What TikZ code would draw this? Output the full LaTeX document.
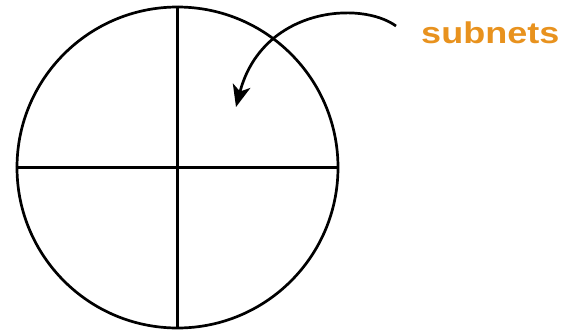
\documentclass[tikz,border=0pt]{standalone}
\usepackage{fontspec}
\setmainfont{Liberation Sans}
\usetikzlibrary{arrows.meta}
\definecolor{subnetorange}{HTML}{E8921E}
\tikzset{
  net/.style={draw=black, line width=2.7pt},
  pointer/.style={draw=black, line width=2.7pt, -{Stealth[length=22pt,width=18pt,inset=6pt]}},
  lbl/.style={text=subnetorange, font=\bfseries\fontsize{30pt}{32pt}\selectfont, inner sep=0pt, xscale=1.2, anchor=base west}
}
\begin{document}
\begin{tikzpicture}[x=1pt,y=-1pt]
\useasboundingbox (0,0) rectangle (561,335);
\coordinate (c) at (177.5,167.5);
\node[net, circle, minimum size=321pt, inner sep=0pt] (ring) at (c) {};
\draw[net] (ring.north) -- (ring.south);
\draw[net] (ring.west) -- (ring.east);
\node[lbl] (txt) at (421,43) {subnets};
\coordinate (start) at (396,26);
\coordinate (tip) at (236,107);
\draw[pointer] (start) .. controls (360,0) and (262,8) .. (tip);
\end{tikzpicture}
\end{document}
